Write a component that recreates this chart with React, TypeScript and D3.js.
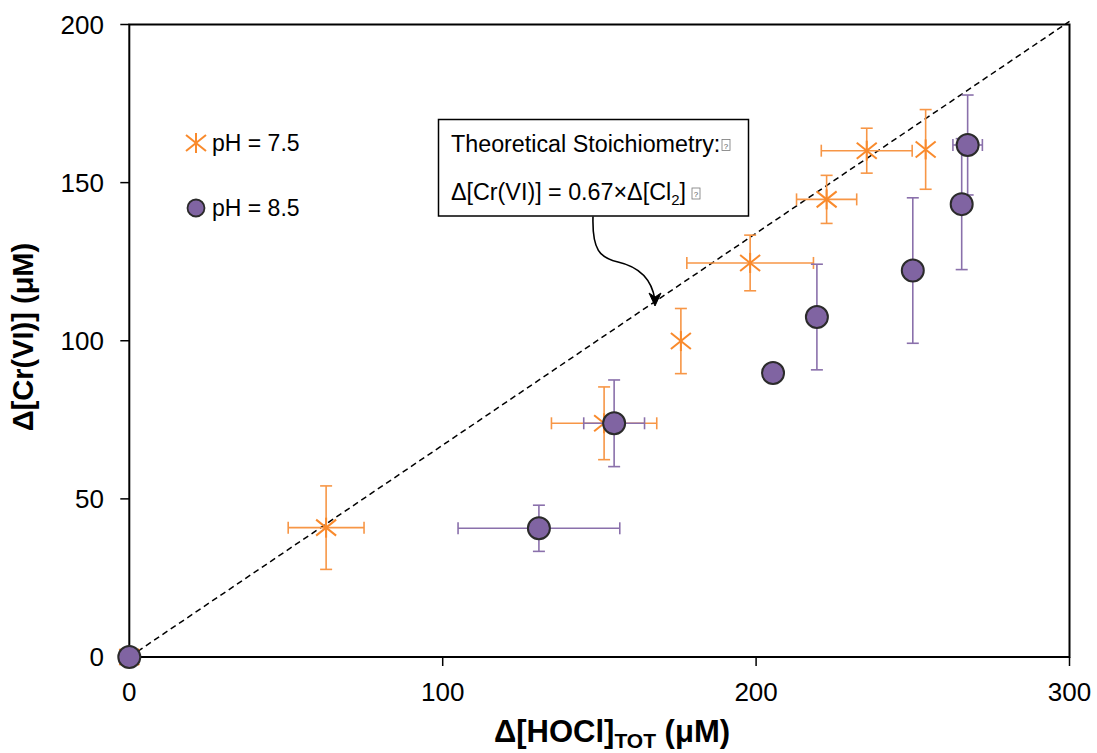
import React from "react";
import * as d3 from "d3";

const xTicks = [0, 100, 200, 300];
const yTicks = [0, 50, 100, 150, 200];

// pH = 7.5 series
const ph75X = [0, 62.8, 151.5, 176.0, 198.1, 222.5, 235.3, 254.1];
const ph75Y = [0, 40.9, 73.9, 99.9, 124.6, 144.7, 160.1, 160.5];
const ph75XErr = [0, 12.1, 16.8, 0, 20.2, 9.6, 14.5, 0];
const ph75YErr = [0, 13.2, 11.5, 10.3, 8.8, 7.6, 7.1, 12.6];

// pH = 8.5 series
const ph85X = [0, 130.7, 154.7, 205.4, 219.4, 250.0, 265.6, 267.5];
const ph85Y = [0, 40.7, 73.9, 89.8, 107.5, 122.2, 143.2, 161.9];
const ph85XErr = [0, 25.8, 9.7, 0, 0, 0, 0, 4.7];
const ph85YErr = [0, 7.3, 13.7, 0, 16.7, 23.0, 20.7, 15.8];

const stoichSlope = 0.67;
const legendLabels = ["pH = 7.5", "pH = 8.5"];

const FONT = "'Liberation Sans', Arial, Helvetica, sans-serif";
const ORANGE = "#f98a2c";
const ORANGE_BAR = "#f79646";
const PURPLE = "#8064a2";
const PURPLE_BAR = "#8a70ab";

const W = 1097;
const H = 753;
const L = 129.3, R = 1069.5, T = 24.5, B = 657;

export default function App() {
  const x = d3.scaleLinear().domain([0, 300]).range([L, R]);
  const y = d3.scaleLinear().domain([0, 200]).range([B, T]);

  const pts75 = ph75X.map((v, i) => ({ x: v, y: ph75Y[i], ex: ph75XErr[i], ey: ph75YErr[i] }));
  const pts85 = ph85X.map((v, i) => ({ x: v, y: ph85Y[i], ex: ph85XErr[i], ey: ph85YErr[i] }));

  const errBars = (pts: any[], color: string, cap: number, key: string) =>
    pts.map((p, i) => {
      const cx = x(p.x), cy = y(p.y);
      const els: any[] = [];
      if (p.ex > 0) {
        const x1 = x(p.x - p.ex), x2 = x(p.x + p.ex);
        els.push(<line key="h" x1={x1} x2={x2} y1={cy} y2={cy} />);
        els.push(<line key="hc1" x1={x1} x2={x1} y1={cy - cap} y2={cy + cap} />);
        els.push(<line key="hc2" x1={x2} x2={x2} y1={cy - cap} y2={cy + cap} />);
      }
      if (p.ey > 0) {
        const y1 = y(p.y + p.ey), y2 = y(p.y - p.ey);
        els.push(<line key="v" x1={cx} x2={cx} y1={y1} y2={y2} />);
        els.push(<line key="vc1" x1={cx - cap} x2={cx + cap} y1={y1} y2={y1} />);
        els.push(<line key="vc2" x1={cx - cap} x2={cx + cap} y1={y2} y2={y2} />);
      }
      return (
        <g key={key + i} stroke={color} strokeWidth={1.6} fill="none">
          {els}
        </g>
      );
    });

  const star = (cx: number, cy: number, key: string) => (
    <g key={key} stroke={ORANGE} strokeWidth={2} fill="none">
      <line x1={cx - 10} y1={cy - 8} x2={cx + 10} y2={cy + 8} />
      <line x1={cx - 10} y1={cy + 8} x2={cx + 10} y2={cy - 8} />
      <line x1={cx} y1={cy - 10} x2={cx} y2={cy + 10} />
    </g>
  );

  const line = d3.line<number>().x((d) => x(d)).y((d) => y(d * stoichSlope * 1.0));

  const tofu = (tx: number, ty: number) => (
    <g>
      <rect x={tx} y={ty - 12} width={8} height={11} fill="white" stroke="#777" strokeWidth={0.8} />
      <text x={tx + 4} y={ty - 3} fontSize={8} textAnchor="middle" fill="#555" fontFamily={FONT}>?</text>
    </g>
  );

  return (
    <svg width={W} height={H} style={{ position: "absolute", left: 0, top: 0, background: "white" }}>
      <rect x={0} y={0} width={W} height={H} fill="white" />
      {/* plot frame */}
      <rect x={L} y={T} width={R - L} height={B - T} fill="none" stroke="#000" strokeWidth={2} />

      {/* ticks */}
      {yTicks.map((t) => (
        <g key={"yt" + t}>
          <line x1={L - 9} x2={L} y1={y(t)} y2={y(t)} stroke="#000" strokeWidth={1.5} />
          <text x={104} y={y(t)} dy="0.36em" textAnchor="end" fontSize={26} fontFamily={FONT} fill="#000">
            {t}
          </text>
        </g>
      ))}
      {xTicks.map((t) => (
        <g key={"xt" + t}>
          <line x1={x(t)} x2={x(t)} y1={B} y2={B + 9} stroke="#000" strokeWidth={1.5} />
          <text x={x(t)} y={692} dy="0.36em" textAnchor="middle" fontSize={26} fontFamily={FONT} fill="#000">
            {t}
          </text>
        </g>
      ))}

      {/* axis titles */}
      <text x={612} y={742} textAnchor="middle" fontSize={31} fontWeight="bold" fontFamily={FONT} fill="#000">
        Δ[HOCl]
        <tspan fontSize={21} dy={6}>TOT</tspan>
        <tspan dy={-6}> (μM)</tspan>
      </text>
      <text
        transform={`translate(33,337) rotate(-90)`}
        textAnchor="middle"
        fontSize={29}
        fontWeight="bold"
        fontFamily={FONT}
        fill="#000"
      >
        Δ[Cr(VI)] (μM)
      </text>

      {/* theoretical line */}
      <path d={line([0, 300]) || ""} stroke="#000" strokeWidth={1.5} strokeDasharray="6,4" fill="none" />

      {/* series */}
      {errBars(pts75, ORANGE_BAR, 6, "e75")}
      {pts75.map((p, i) => star(x(p.x), y(p.y), "s" + i))}
      {errBars(pts85, PURPLE_BAR, 6, "e85")}
      {pts85.map((p, i) => (
        <circle key={"c" + i} cx={x(p.x)} cy={y(p.y)} r={11} fill={PURPLE} stroke="#2b2b2b" strokeWidth={2} />
      ))}

      {/* legend */}
      {star(196, 143, "leg")}
      <text x={212} y={151} fontSize={23} fontFamily={FONT} fill="#000">{legendLabels[0]}</text>
      <circle cx={196} cy={208} r={8.5} fill={PURPLE} stroke="#2b2b2b" strokeWidth={1.8} />
      <text x={212} y={216} fontSize={23} fontFamily={FONT} fill="#000">{legendLabels[1]}</text>

      {/* annotation */}
      <rect x={438.5} y={119.5} width={310} height={96.5} fill="white" stroke="#000" strokeWidth={1.5} />
      <text x={451} y={151.5} fontSize={23.3} fontFamily={FONT} fill="#000">Theoretical Stoichiometry:</text>
      {tofu(722, 151.5)}
      <text x={451} y={200} fontSize={23.3} fontFamily={FONT} fill="#000">
        Δ[Cr(VI)] = 0.67×Δ[Cl<tspan fontSize={15} dy={5}>2</tspan><tspan dy={-5}>]</tspan>
      </text>
      {tofu(692, 200)}
      <path
        d="M593,216.5 C592,250 600,258 618,262 C640,267 652,280 655,300"
        fill="none"
        stroke="#000"
        strokeWidth={1.6}
      />
      <path d="M655,306 L649,293 L655,297 L661,293 Z" fill="#000" stroke="#000" strokeWidth={1} />
    </svg>
  );
}
